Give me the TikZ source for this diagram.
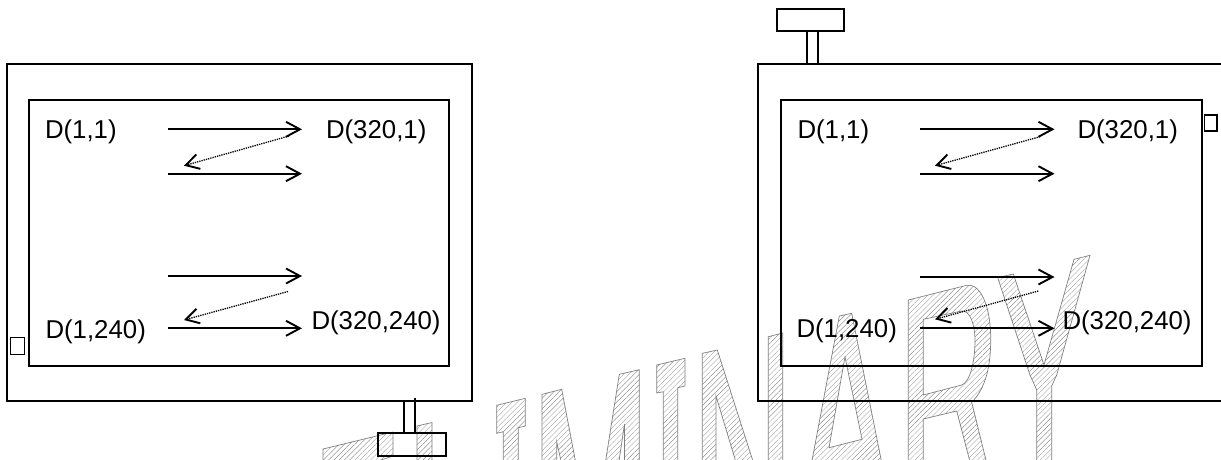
\documentclass[tikz,border=0pt]{standalone}
\usepackage{fontspec}
\setmainfont{Liberation Sans}
\usetikzlibrary{patterns.meta,arrows.meta}
\tikzset{
  hatch/.style={draw=black!50,line width=.7pt,even odd rule,pattern={Lines[angle=45,distance=3.7pt,line width=.25pt]},pattern color=black!55},
  frameline/.style={draw=black,line width=1.8pt},
  lbl/.style={anchor=base west,inner sep=0pt,outer sep=0pt,font=\fontsize{25.8}{30}\selectfont},
  scan/.style={draw=black,line width=1.9pt,-{Straight Barb[length=14pt,width=15pt,line width=1.9pt]}},
  retrace/.style={draw=black,line width=1.3pt,densely dotted,-{Straight Barb[length=13pt,width=15pt,line width=1.9pt,line cap=butt]}},
}
\begin{document}
\begin{tikzpicture}[x=1pt,y=-1pt]
\useasboundingbox (0,0) rectangle (1221,459);
% watermark
\path[hatch] (323,449) -- (393,432) -- (393,456) -- (378,461) -- (323,461) -- cycle;
\path[hatch] (417,426) -- (432,422.5) -- (432,461) -- (417,461) -- cycle;
\path[hatch] (496.7,405.3) -- (525.3,398.3) -- (525.3,426) -- (518.3,427.7) -- (518.3,461) -- (503.3,461) -- (503.3,431.7) -- (496.7,433.3) -- cycle;
\path[hatch] (542,394.3) -- (561.7,389.3) -- (575.4,461) -- (561,461) -- (556.7,441.7) -- (556.7,461) -- (542,461) -- cycle;
\path[hatch] (619.3,374.3) -- (639.3,369.7) -- (639.3,461) -- (624.5,461) -- (624.5,424) -- (619,461) -- (605.6,461) -- cycle;
\path[hatch] (656.7,365) -- (685,358.3) -- (685,386) -- (677.7,387.7) -- (677.7,461) -- (663.3,461) -- (663.3,391.7) -- (656.7,393) -- cycle;
\path[hatch] (702.3,353.3) -- (717.3,350) -- (752.9,461) -- (735.6,461) -- (716,396) -- (716,461) -- (702.3,461) -- cycle;
\path[hatch] (768.3,336.7) -- (782.7,333) -- (782.7,461) -- (768.3,461) -- cycle;
\path[hatch] (811.9,461) -- (839.3,316) -- (851.7,313.3) -- (881.4,461) -- cycle
  (845,356.7) -- (862,439.3) -- (829,447.7) -- cycle;
\path[hatch] (908.3,300) -- (966.7,285.3) .. controls (982,283) and (991,310) .. (990.7,340)
  .. controls (990.7,365) and (986,388) .. (971.7,402.3) -- (986.2,461) -- (969.8,461) -- (956.7,411) -- (923.3,419) -- (923.3,461) -- (908.3,461) -- cycle
  (923.3,319.3) -- (961.7,311) .. controls (970,310) and (975,325) .. (975,340)
  .. controls (975,362) and (970,382) .. (961.7,385) -- (923.3,395) -- cycle;
\path[hatch] (997.7,277.7) -- (1013.3,274) -- (1044,365) -- (1074,259.3) -- (1090,255.3) -- (1056.7,375) -- (1051.7,386) -- (1051.7,461) -- (1036.7,461) -- (1036.7,390) -- (1030,375) -- cycle;
% left device
\coordinate (LOtl) at (6.7,64); \coordinate (LObr) at (471.7,400.7);
\coordinate (LItl) at (28.7,100); \coordinate (LIbr) at (449,366);
\draw[frameline] (LOtl) rectangle (LObr);
\draw[frameline] (LItl) rectangle (LIbr);
\coordinate (LS1a) at (404.3,400.7); \coordinate (LS1b) at (404.3,432.7);
\coordinate (LS2a) at (415,398); \coordinate (LS2b) at (415,432.7);
\draw[frameline] (LS1a) -- (LS1b); \draw[frameline] (LS2a) -- (LS2b);
\coordinate (LHa) at (377.7,432.7); \coordinate (LHb) at (445.7,455.7);
\draw[frameline] (LHa) rectangle (LHb);
\coordinate (LBa) at (10.3,337.7); \coordinate (LBb) at (24.7,354.7);
\draw[draw=black,line width=1.5pt] (LBa) rectangle (LBb);
% right device
\coordinate (ROtr) at (1222,64); \coordinate (ROtl) at (758.3,64); \coordinate (RObl) at (758.3,400.7); \coordinate (RObr) at (1222,400.7);
\draw[frameline] (ROtr) -- (ROtl) -- (RObl) -- (RObr);
\coordinate (RItl) at (780.7,100); \coordinate (RIbr) at (1201.7,366);
\draw[frameline] (RItl) rectangle (RIbr);
\coordinate (RHa) at (777.3,9); \coordinate (RHb) at (844.3,31.3);
\draw[frameline] (RHa) rectangle (RHb);
\coordinate (RS1a) at (806.7,31.3); \coordinate (RS1b) at (806.7,65);
\coordinate (RS2a) at (818,31.3); \coordinate (RS2b) at (818,65);
\draw[frameline] (RS1a) -- (RS1b); \draw[frameline] (RS2a) -- (RS2b);
\coordinate (RBa) at (1204.3,115); \coordinate (RBb) at (1217,131);
\draw[draw=black,line width=1.5pt] (RBa) rectangle (RBb);
% labels left
\node[lbl] (l11) at (45,138.3) {D(1,1)};
\node[lbl] (l3201) at (326,138.3) {D(320,1)};
\node[lbl] (l1240) at (45.5,338.5) {D(1,240)};
\node[lbl] (l320240) at (311.5,329.3) {D(320,240)};
% labels right
\node[lbl] (r11) at (797.5,138.3) {D(1,1)};
\node[lbl] (r3201) at (1077.5,138.3) {D(320,1)};
\node[lbl] (r1240) at (796.5,337) {D(1,240)};
\node[lbl] (r320240) at (1062.5,329) {D(320,240)};
% arrows left
\coordinate (La1) at (168,129.3); \coordinate (La2) at (302,129.3);
\coordinate (Lb1) at (168,173.7); \coordinate (Lb2) at (302,173.7);
\coordinate (Lc1) at (168,276); \coordinate (Lc2) at (302,276);
\coordinate (Ld1) at (168,328.3); \coordinate (Ld2) at (302,328.3);
\coordinate (Le1) at (289,136); \coordinate (Le2) at (184,165.7);
\coordinate (Lf1) at (288,291.5); \coordinate (Lf2) at (184,320);
\draw[scan] (La1) -- (La2); \draw[scan] (Lb1) -- (Lb2);
\draw[scan] (Lc1) -- (Lc2); \draw[scan] (Ld1) -- (Ld2);
\draw[retrace] (Le1) -- (Le2); \draw[retrace] (Lf1) -- (Lf2);
% arrows right
\coordinate (Ra1) at (920,129.3); \coordinate (Ra2) at (1054.5,129.3);
\coordinate (Rb1) at (920,173.7); \coordinate (Rb2) at (1054.5,173.7);
\coordinate (Rc1) at (920,277); \coordinate (Rc2) at (1054.5,277);
\coordinate (Rd1) at (920,328.3); \coordinate (Rd2) at (1054.5,328.3);
\coordinate (Re1) at (1040,136.7); \coordinate (Re2) at (935,165.7);
\coordinate (Rf1) at (1038.3,291); \coordinate (Rf2) at (935,319.3);
\draw[scan] (Ra1) -- (Ra2); \draw[scan] (Rb1) -- (Rb2);
\draw[scan] (Rc1) -- (Rc2); \draw[scan] (Rd1) -- (Rd2);
\draw[retrace] (Re1) -- (Re2); \draw[retrace] (Rf1) -- (Rf2);
\end{tikzpicture}
\end{document}
